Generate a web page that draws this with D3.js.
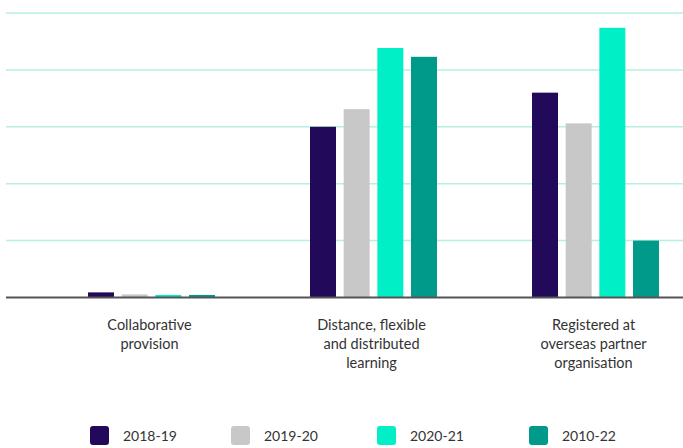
<!DOCTYPE html>
<html>
<head>
<meta charset="utf-8">
<script src="https://cdn.jsdelivr.net/npm/d3@7"></script>
<style>
  body { margin: 0; background: #fff; }
  text { font-family: Lato, "Open Sans", sans-serif; fill: #333; }
</style>
</head>
<body>
<svg id="chart" width="683" height="448"></svg>
<script>
// categories, split into the lines shown under the axis
var categories = ["Collaborative provision", "Distance, flexible and distributed learning", "Registered at overseas partner organisation"];
var categoryLines = [
  ["Collaborative", "provision"],
  ["Distance, flexible", "and distributed", "learning"],
  ["Registered at", "overseas partner", "organisation"]
];
var seriesNames = ["2018-19", "2019-20", "2020-21", "2010-22"];
var seriesColors = ["#22095a", "#c8c8c8", "#00efc6", "#009a8a"];

// values (no axis labels, so in gridline units)
var values2018 = [0.09, 3.0, 3.6];
var values2019 = [0.055, 3.31, 3.06];
var values2020 = [0.045, 4.385, 4.74];
var values2010 = [0.045, 4.23, 1.0];
var gridTicks = [1, 2, 3, 4, 5];

var allValues = [values2018, values2019, values2020, values2010];

var svg = d3.select("#chart");

var y = d3.scaleLinear().domain([0, 5]).range([297.5, 13]);

var x0 = d3.scaleBand()
  .domain(categories)
  .range([88, 659])
  .paddingInner(0.428)
  .paddingOuter(0);

var x1 = d3.scaleBand()
  .domain(seriesNames)
  .range([0, x0.bandwidth()])
  .paddingInner(0.228)
  .paddingOuter(0);

// gridlines
svg.append("g")
  .selectAll("line")
  .data(gridTicks)
  .enter()
  .append("line")
  .attr("x1", 6)
  .attr("x2", 683)
  .attr("y1", d => y(d))
  .attr("y2", d => y(d))
  .attr("stroke", "#b6f0de")
  .attr("stroke-width", 1.5);

// bars
var groups = svg.append("g")
  .selectAll("g")
  .data(categories)
  .enter()
  .append("g")
  .attr("transform", d => "translate(" + x0(d) + ",0)");

groups.selectAll("rect")
  .data((c, ci) => seriesNames.map((s, si) => ({ s: s, si: si, v: allValues[si][ci] })))
  .enter()
  .append("rect")
  .attr("x", d => x1(d.s))
  .attr("width", x1.bandwidth())
  .attr("y", d => y(d.v))
  .attr("height", d => y(0) - y(d.v))
  .attr("fill", d => seriesColors[d.si]);

// baseline
svg.append("line")
  .attr("x1", 6)
  .attr("x2", 683)
  .attr("y1", y(0))
  .attr("y2", y(0))
  .attr("stroke", "#555")
  .attr("stroke-width", 2);

// category labels
var labels = svg.append("g")
  .selectAll("text")
  .data(categories)
  .enter()
  .append("text")
  .attr("text-anchor", "middle")
  .attr("font-size", 14.5)
  .attr("transform", d => "translate(" + (x0(d) + x0.bandwidth() / 2 - 2) + ",330)");

labels.selectAll("tspan")
  .data((d, i) => categoryLines[i])
  .enter()
  .append("tspan")
  .attr("x", 0)
  .attr("y", (d, i) => i * 19)
  .text(d => d);

// legend
var legendX = [90, 231, 377, 529];
var legend = svg.append("g")
  .selectAll("g")
  .data(seriesNames)
  .enter()
  .append("g")
  .attr("transform", (d, i) => "translate(" + legendX[i] + ",426)");

legend.append("rect")
  .attr("width", 19)
  .attr("height", 19)
  .attr("rx", 3)
  .attr("fill", (d, i) => seriesColors[i]);

legend.append("text")
  .attr("x", 33)
  .attr("y", 15)
  .attr("font-size", 14)
  .text(d => d);
</script>
</body>
</html>
